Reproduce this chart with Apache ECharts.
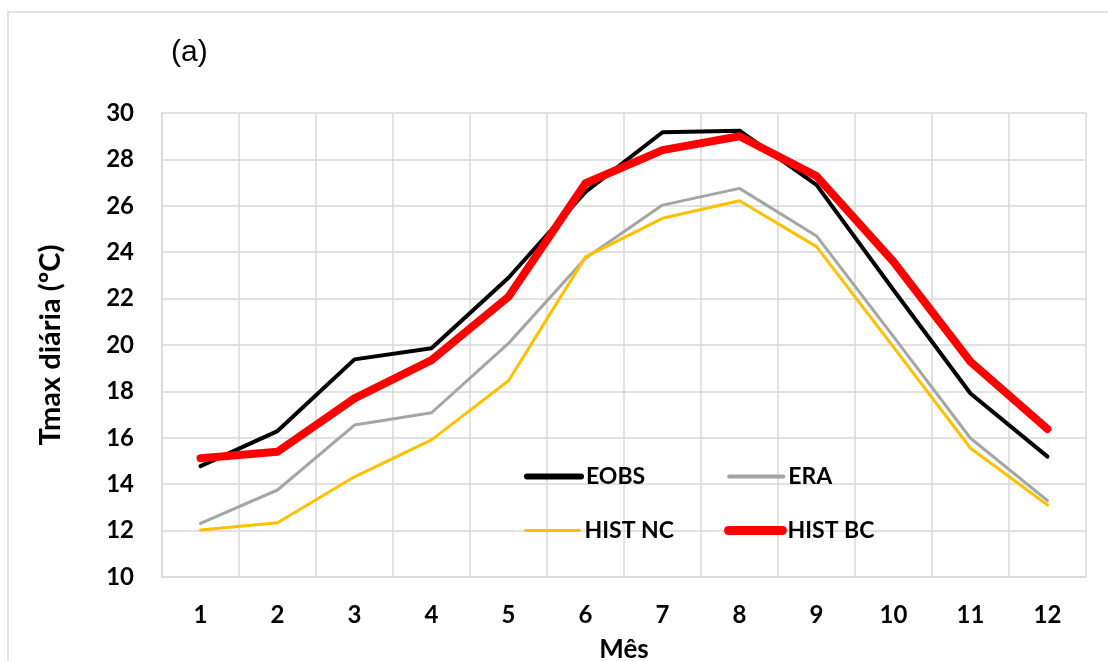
<!DOCTYPE html>
<html lang="pt">
<head>
<meta charset="UTF-8">
<title>Tmax diária</title>
<script src="https://cdn.jsdelivr.net/npm/echarts@6/dist/echarts.min.js"></script>
<style>
html, body { margin: 0; padding: 0; background: #fff; }
#chart { width: 1108px; height: 661px; }
</style>
</head>
<body>
<div id="chart"></div>
<script>
const months = ['1', '2', '3', '4', '5', '6', '7', '8', '9', '10', '11', '12'];
const eobs = [14.78, 16.29, 19.38, 19.86, 22.9, 26.6, 29.17, 29.24, 26.9, 22.37, 17.91, 15.19];
const era = [12.31, 13.75, 16.55, 17.08, 20.07, 23.74, 26.03, 26.75, 24.7, 20.36, 15.98, 13.29];
const histNC = [12.03, 12.34, 14.32, 15.91, 18.46, 23.8, 25.46, 26.22, 24.24, 19.91, 15.55, 13.1];
const histBC = [15.12, 15.4, 17.7, 19.35, 22.08, 26.97, 28.4, 29.0, 27.28, 23.59, 19.28, 16.38];

const font = 'Lato, "Open Sans", sans-serif';
const gridColor = '#d9d9d9';

const chart = echarts.init(document.getElementById('chart'));

function line(name, data, color, width, z) {
  return {
    name: name,
    type: 'line',
    data: data,
    symbol: 'none',
    z: z,
    lineStyle: { color: color, width: width, cap: 'round', join: 'round' },
    itemStyle: { color: color }
  };
}

// legend entry: thick line with round caps, no symbol
function entry(name, width) {
  return { name: name, itemStyle: { opacity: 0 }, lineStyle: { width: width, cap: 'round' } };
}

const legendBase = {
  left: 524,
  padding: 0,
  itemWidth: 54,
  itemHeight: 14,
  textStyle: { fontFamily: font, fontWeight: 'bold', fontSize: 23, color: '#000' }
};

chart.setOption({
  animation: false,
  graphic: [{
    type: 'rect',
    shape: { x: 8, y: 12, width: 1300, height: 800 },
    style: { fill: 'none', stroke: gridColor, lineWidth: 1.5 },
    silent: true
  }, {
    type: 'text',
    left: 171,
    top: 38,
    style: { text: '(a)', fontFamily: '"Liberation Sans", Arial, sans-serif', fontSize: 30, fill: '#000' }
  }],
  legend: [
    Object.assign({}, legendBase, { top: 465, itemGap: 82, data: [entry('EOBS', 6), entry('ERA', 4)] }),
    Object.assign({}, legendBase, { top: 519, itemGap: 50, data: [entry('HIST NC', 3), entry('HIST BC', 9)] })
  ],
  grid: { left: 162, top: 113, right: 22, bottom: 84, outerBoundsMode: 'none' },
  xAxis: {
    type: 'category',
    data: months,
    name: 'Mês',
    nameLocation: 'middle',
    nameGap: 60,
    nameTextStyle: { fontFamily: font, fontWeight: 'bold', fontSize: 26, color: '#000' },
    axisLine: { lineStyle: { color: gridColor, width: 1.5 } },
    axisTick: { show: false },
    axisLabel: { fontFamily: font, fontWeight: 'bold', fontSize: 24, color: '#000', margin: 26 },
    splitLine: { show: true, interval: 0, lineStyle: { color: gridColor, width: 1.5 } }
  },
  yAxis: {
    type: 'value',
    min: 10,
    max: 30,
    interval: 2,
    name: 'Tmax diária (ºC)',
    nameLocation: 'middle',
    nameRotate: 90,
    nameGap: 97,
    nameTextStyle: { fontFamily: font, fontWeight: 'bold', fontSize: 29, color: '#000' },
    axisLine: { show: true, lineStyle: { color: gridColor, width: 1.5 } },
    axisTick: { show: false },
    axisLabel: { fontFamily: font, fontWeight: 'bold', fontSize: 24, color: '#000', margin: 28 },
    splitLine: { lineStyle: { color: gridColor, width: 1.5 } }
  },
  series: [
    line('EOBS', eobs, '#000000', 4, 3),
    line('ERA', era, '#a5a5a5', 3, 2),
    line('HIST NC', histNC, '#ffc000', 3, 2),
    line('HIST BC', histBC, '#ff0000', 8, 4)
  ]
});
</script>
</body>
</html>
